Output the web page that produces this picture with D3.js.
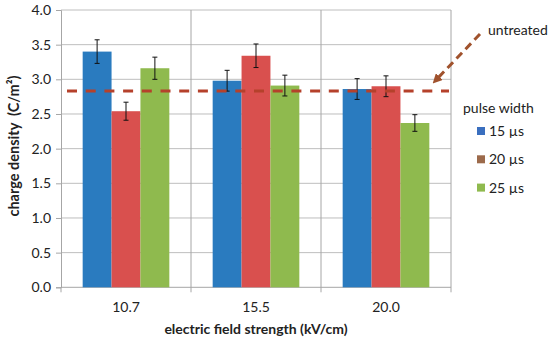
<!DOCTYPE html>
<html><head><meta charset="utf-8">
<script src="https://cdn.jsdelivr.net/npm/d3@7"></script>
<style>body{margin:0;background:#fff}svg{display:block}text{font-family:Lato,"Open Sans",sans-serif}</style>
</head><body><svg id="c" width="550" height="342"></svg>
<script>
const categories = ["10.7","15.5","20.0"];
const seriesNames = ["15 µs","20 µs","25 µs"];
const values15 = [3.40, 2.98, 2.86];
const values20 = [2.54, 3.34, 2.90];
const values25 = [3.16, 2.91, 2.37];
const err15 = [0.17, 0.15, 0.15];
const err20 = [0.13, 0.17, 0.15];
const err25 = [0.16, 0.15, 0.12];
const untreated = 2.83;
const yTicks = [0,0.5,1,1.5,2,2.5,3,3.5,4];

const barColors = ["#2A7BBF","#D9504E","#8FBA4E"];
const legendColors = ["#3A6FBF","#9C6A4B","#8FBA4E"];

const svg = d3.select("#c");
const L=61, R=451, T=10, B=287.3;
const FS = 14;
const x = d3.scaleBand().domain(categories).range([L,R]);
const inner = d3.scaleBand().domain(seriesNames).range([0,x.bandwidth()]).paddingOuter(0.75).paddingInner(0);
const y = d3.scaleLinear().domain([0,4]).range([B,T]);

// gridlines
svg.append("g").selectAll("line").data(yTicks.slice(1)).join("line")
  .attr("x1",L).attr("x2",R).attr("y1",d=>y(d)).attr("y2",d=>y(d))
  .attr("stroke","#BEBEBE").attr("stroke-width",1);
const seps = categories.map(c=>x(c)).concat([R]).slice(1);
svg.append("g").selectAll("line").data(seps).join("line")
  .attr("x1",d=>d).attr("x2",d=>d).attr("y1",T).attr("y2",B+5)
  .attr("stroke","#A6A6A6").attr("stroke-width",1);

// axes
const ya = svg.append("g").attr("transform",`translate(${L},0)`)
  .call(d3.axisLeft(y).tickValues(yTicks).tickFormat(d3.format(".1f")).tickSize(5).tickPadding(5));
ya.select(".domain").attr("stroke","#A6A6A6");
ya.selectAll(".tick line").attr("stroke","#A6A6A6");
ya.selectAll("text").attr("font-size",FS).attr("fill","#222").attr("font-family","Lato, sans-serif");

svg.append("line").attr("x1",L).attr("x2",R).attr("y1",B).attr("y2",B).attr("stroke","#A6A6A6");
svg.append("line").attr("x1",L).attr("x2",L).attr("y1",B).attr("y2",B+5).attr("stroke","#A6A6A6");

svg.append("g").selectAll("text").data(categories).join("text")
  .attr("x",d=>x(d)+x.bandwidth()/2).attr("y",312).attr("text-anchor","middle")
  .attr("font-size",FS).attr("fill","#222").text(d=>d);

// bars
const series = [values15, values20, values25];
const errs = [err15, err20, err25];
const data = [];
categories.forEach((c,i)=>seriesNames.forEach((s,j)=>data.push({c,s,j,v:series[j][i],e:errs[j][i]})));
svg.append("g").selectAll("rect").data(data).join("rect")
  .attr("x",d=>x(d.c)+inner(d.s)).attr("width",inner.bandwidth())
  .attr("y",d=>y(d.v)).attr("height",d=>B-y(d.v)).attr("fill",d=>barColors[d.j]);

// error bars
const eg = svg.append("g").attr("stroke","#111").attr("stroke-width",1);
data.forEach(d=>{
  const cx = x(d.c)+inner(d.s)+inner.bandwidth()/2;
  eg.append("line").attr("x1",cx).attr("x2",cx).attr("y1",y(d.v+d.e)).attr("y2",y(d.v-d.e));
  eg.append("line").attr("x1",cx-2.5).attr("x2",cx+2.5).attr("y1",y(d.v+d.e)).attr("y2",y(d.v+d.e));
  eg.append("line").attr("x1",cx-2.5).attr("x2",cx+2.5).attr("y1",y(d.v-d.e)).attr("y2",y(d.v-d.e));
});

// untreated line
const lineCol = "#B5412B";
svg.append("line").attr("x1",67).attr("x2",449).attr("y1",y(untreated)).attr("y2",y(untreated))
  .attr("stroke",lineCol).attr("stroke-width",3).attr("stroke-dasharray","10,8.7");

// arrow
svg.append("defs").append("marker").attr("id","ah").attr("viewBox","0 0 10 10").attr("refX",5).attr("refY",5)
  .attr("markerWidth",3.2).attr("markerHeight",3.2).attr("orient","auto")
  .append("path").attr("d","M0,0L10,5L0,10z").attr("fill","#A0522D");
svg.append("line").attr("x1",480).attr("y1",34).attr("x2",436).attr("y2",80)
  .attr("stroke","#A0522D").attr("stroke-width",3).attr("stroke-dasharray","8,5").attr("marker-end","url(#ah)");
svg.append("text").attr("x",488).attr("y",35).attr("font-size",FS).attr("fill","#222").text("untreated");

// legend
svg.append("text").attr("x",463).attr("y",113).attr("font-size",FS).attr("fill","#222").text("pulse width");
const lg = svg.append("g").selectAll("g").data(seriesNames).join("g")
  .attr("transform",(d,i)=>`translate(477,${131+i*28.3})`);
lg.append("rect").attr("x",0).attr("y",-4).attr("width",8).attr("height",8).attr("fill",(d,i)=>legendColors[i]);
lg.append("text").attr("x",12).attr("y",5).attr("font-size",FS).attr("fill","#222").text(d=>d);

// titles
svg.append("text").attr("transform","translate(19,146) rotate(-90)").attr("text-anchor","middle")
  .attr("font-size",14.5).attr("font-weight","bold").attr("fill","#222").text("charge density\u00A0 (C/m²)");
svg.append("text").attr("x",256).attr("y",334).attr("text-anchor","middle")
  .attr("font-size",FS).attr("font-weight","bold").attr("fill","#222").text("electric field strength (kV/cm)");
</script></body></html>
